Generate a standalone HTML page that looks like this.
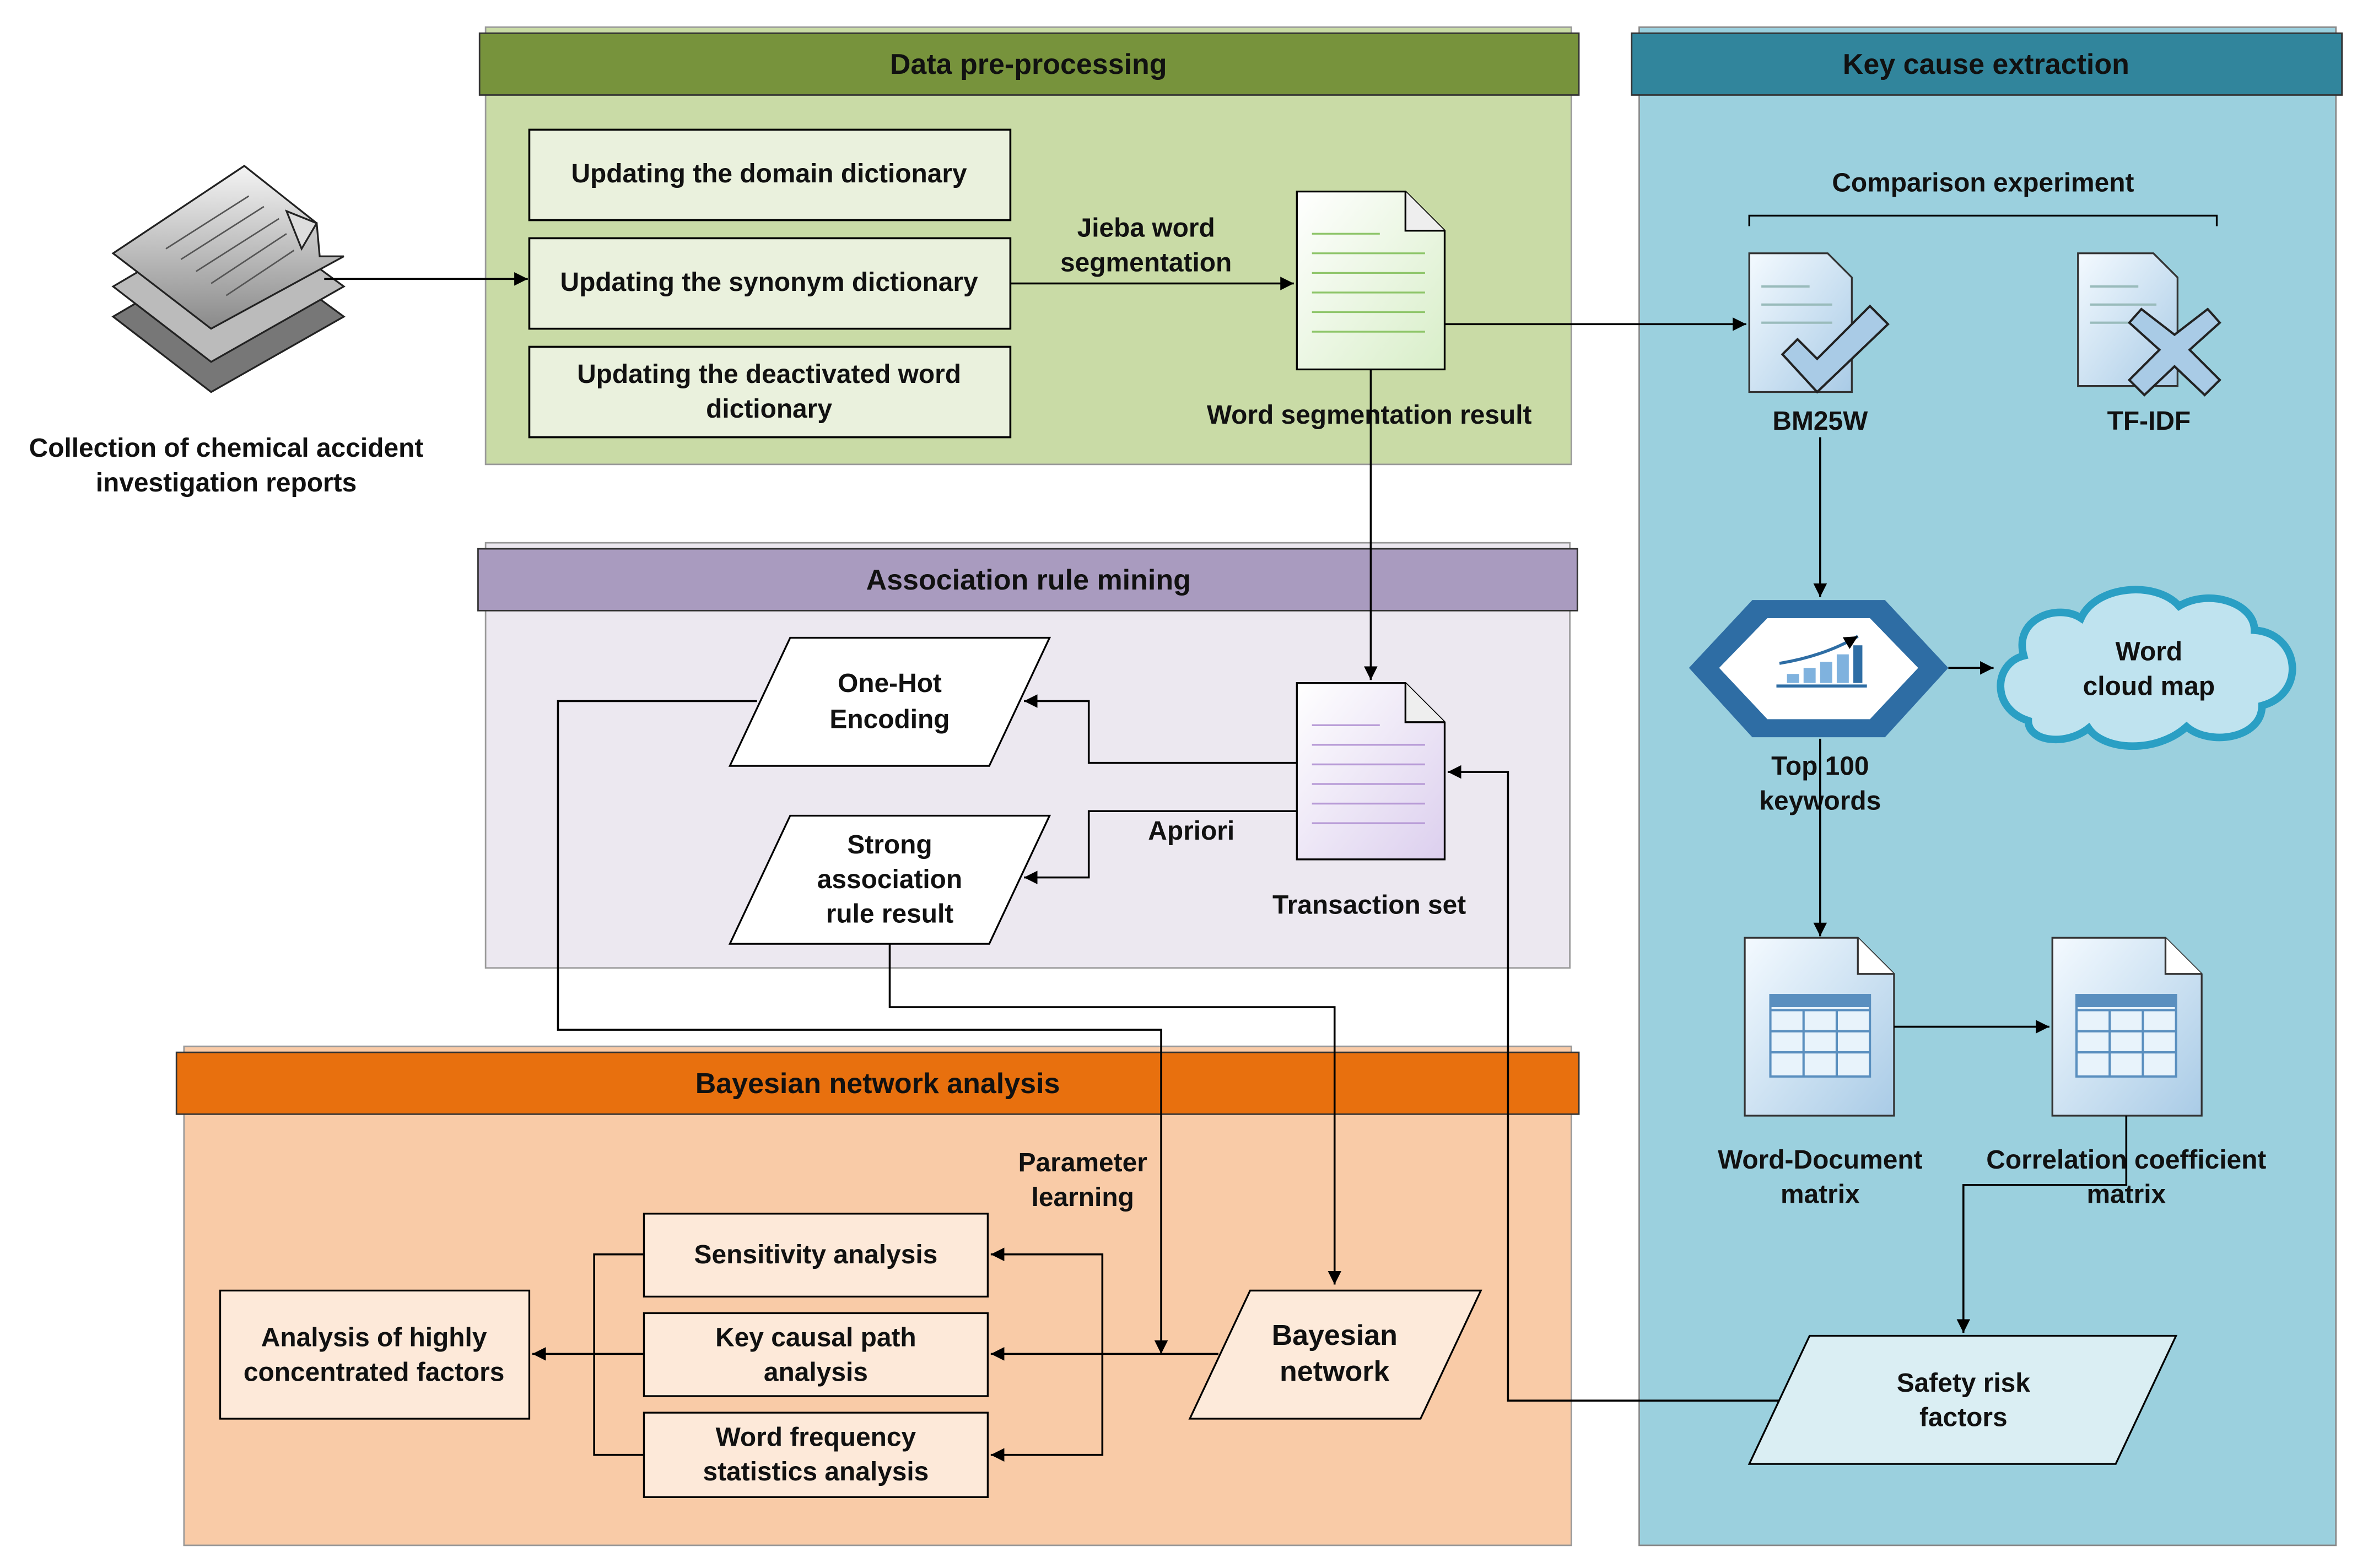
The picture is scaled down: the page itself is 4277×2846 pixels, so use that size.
<!DOCTYPE html>
<html><head><meta charset="utf-8"><style>
html,body{margin:0;padding:0;background:#fff}
svg{display:block}
text{font-family:"Liberation Sans",Arial,sans-serif;font-size:17.5px;font-weight:bold;fill:#111;text-anchor:middle}
.h{font-size:19px}
</style></head><body>
<svg width="4277" height="2846" viewBox="0 0 1563 1040" xmlns="http://www.w3.org/2000/svg">
<defs>
<marker id="a" viewBox="0 0 10 10" refX="10" refY="5" markerWidth="9" markerHeight="9" markerUnits="userSpaceOnUse" orient="auto"><path d="M0,0L10,5L0,10z" fill="#000"/></marker>
<linearGradient id="dg" x1="0" y1="0" x2="1" y2="1"><stop offset="0" stop-color="#fff"/><stop offset="1" stop-color="#d8eec8"/></linearGradient>
<linearGradient id="pg" x1="0" y1="0" x2="1" y2="1"><stop offset="0" stop-color="#fff"/><stop offset="1" stop-color="#dccfee"/></linearGradient>
<linearGradient id="bg" x1="0" y1="0" x2="1" y2="1"><stop offset="0" stop-color="#f4faff"/><stop offset="1" stop-color="#a9cbe6"/></linearGradient>
<linearGradient id="gg" x1="0" y1="0" x2="0" y2="1"><stop offset="0" stop-color="#f4f4f4"/><stop offset="1" stop-color="#8a8a8a"/></linearGradient>
</defs>
<!-- panels -->
<rect x="322" y="18" width="720" height="290" fill="#c9dba6" stroke="#999"/>
<rect x="318" y="22" width="729" height="41" fill="#77933c" stroke="#333"/>
<text class="h" x="682" y="49">Data pre-processing</text>
<rect x="1087" y="18" width="462" height="1007" fill="#9bd0de" stroke="#888"/>
<rect x="1082" y="22" width="471" height="41" fill="#31859c" stroke="#333"/>
<text class="h" x="1317" y="49">Key cause extraction</text>
<rect x="322" y="360" width="719" height="282" fill="#ece8f0" stroke="#999"/>
<rect x="317" y="364" width="729" height="41" fill="#a99bbf" stroke="#333"/>
<text class="h" x="682" y="391">Association rule mining</text>
<rect x="122" y="694" width="920" height="331" fill="#f9cba7" stroke="#999"/>
<rect x="117" y="698" width="930" height="41" fill="#e8700e" stroke="#333"/>
<text class="h" x="582" y="725">Bayesian network analysis</text>

<!-- data boxes -->
<g fill="#eaf1dd" stroke="#000" stroke-width="1.3">
<rect x="351" y="86" width="319" height="60"/><rect x="351" y="158" width="319" height="60"/><rect x="351" y="230" width="319" height="60"/></g>
<text x="510" y="121">Updating the domain dictionary</text>
<text x="510" y="193">Updating the synonym dictionary</text>
<text x="510" y="254">Updating the deactivated word</text><text x="510" y="277">dictionary</text>

<!-- collection icon -->
<g stroke="#222" stroke-width="1.2">
<path d="M75,210 L160,160 L228,210 L140,260z" fill="#777"/>
<path d="M75,190 L160,140 L228,190 L140,240z" fill="#bbb"/>
<path d="M75,168 L162,110 L210,148 L212,170 L228,170 L140,218z" fill="url(#gg)"/>
<path d="M190,140 L210,148 L200,165z" fill="#ddd"/>
</g>
<g stroke="#555" stroke-width="1"><line x1="110" y1="165" x2="165" y2="130"/><line x1="120" y1="172" x2="175" y2="137"/><line x1="130" y1="180" x2="185" y2="145"/><line x1="140" y1="188" x2="190" y2="155"/><line x1="150" y1="196" x2="195" y2="166"/></g>
<text x="150" y="303">Collection of chemical accident</text><text x="150" y="326">investigation reports</text>

<!-- docs -->
<g stroke="#000" stroke-width="1.2">
<path d="M860,127 H932 L958,153 V245 H860z" fill="url(#dg)"/><path d="M932,127 V153 H958" fill="#eee"/>
<path d="M860,453 H932 L958,479 V570 H860z" fill="url(#pg)"/><path d="M932,453 V479 H958" fill="#eee"/>
</g>
<g stroke="#8fc66b" stroke-width="1.2"><line x1="870" y1="155" x2="915" y2="155"/><line x1="870" y1="168" x2="945" y2="168"/><line x1="870" y1="181" x2="945" y2="181"/><line x1="870" y1="194" x2="945" y2="194"/><line x1="870" y1="207" x2="945" y2="207"/><line x1="870" y1="220" x2="945" y2="220"/></g>
<g stroke="#b79ad6" stroke-width="1.2"><line x1="870" y1="481" x2="915" y2="481"/><line x1="870" y1="494" x2="945" y2="494"/><line x1="870" y1="507" x2="945" y2="507"/><line x1="870" y1="520" x2="945" y2="520"/><line x1="870" y1="533" x2="945" y2="533"/><line x1="870" y1="546" x2="945" y2="546"/></g>
<text x="760" y="157">Jieba word</text><text x="760" y="180">segmentation</text>
<text x="908" y="281">Word segmentation result</text>
<text x="908" y="606">Transaction set</text>

<!-- key cause -->
<text x="1315" y="127">Comparison experiment</text>
<path d="M1160,150 V143 H1470 V150" fill="none" stroke="#000" stroke-width="1.2"/>
<g stroke="#333" stroke-width="1.2">
<path d="M1160,168 H1212 L1228,184 V260 H1160z" fill="url(#bg)"/>
<path d="M1378,168 H1428 L1444,184 V256 H1378z" fill="url(#bg)"/>
</g>
<g stroke="#9bb" stroke-width="1.5"><line x1="1168" y1="190" x2="1200" y2="190"/><line x1="1168" y1="202" x2="1215" y2="202"/><line x1="1168" y1="214" x2="1215" y2="214"/><line x1="1386" y1="190" x2="1418" y2="190"/><line x1="1386" y1="202" x2="1430" y2="202"/><line x1="1386" y1="214" x2="1430" y2="214"/></g>
<path d="M1182,235 L1192,225 L1205,238 L1240,203 L1252,215 L1205,260z" fill="#a9cbe6" stroke="#222" stroke-width="1.5"/>
<path d="M1420,205 L1442,222 L1464,205 L1472,214 L1452,232 L1472,252 L1462,262 L1442,243 L1422,262 L1412,252 L1432,232 L1412,214z" fill="#a9cbe6" stroke="#222" stroke-width="1.5"/>
<text x="1207" y="285">BM25W</text><text x="1425" y="285">TF-IDF</text>
<path d="M1120,443 L1162,398 H1250 L1292,443 L1250,489 H1162z" fill="#2e6da4"/>
<path d="M1140,443 L1172,410 H1240 L1272,443 L1240,477 H1172z" fill="#fff"/>
<g fill="#7fb2de"><rect x="1185" y="447" width="8" height="6"/><rect x="1196" y="443" width="8" height="10"/><rect x="1207" y="439" width="8" height="14"/><rect x="1218" y="434" width="8" height="19"/><rect x="1229" y="428" width="6" height="25" fill="#2e6da4"/></g>
<line x1="1178" y1="455" x2="1238" y2="455" stroke="#2e6da4" stroke-width="2"/>
<path d="M1180,440 Q1210,435 1232,422" stroke="#2e6da4" stroke-width="2" fill="none" marker-end="url(#a)"/>
<path d="M1345,478 C1320,470 1322,440 1342,435 C1335,410 1365,400 1380,410 C1390,388 1430,385 1445,402 C1465,390 1495,400 1495,418 C1525,420 1530,460 1500,468 C1500,490 1465,495 1450,482 C1430,500 1395,498 1385,483 C1370,495 1345,492 1345,478z" fill="#bfe3ef" stroke="#2a9fc4" stroke-width="5"/>
<text x="1425" y="438">Word</text><text x="1425" y="461">cloud map</text>
<text x="1207" y="514">Top 100</text><text x="1207" y="537">keywords</text>
<g stroke="#333" stroke-width="1.2">
<path d="M1157,622 H1232 L1256,646 V740 H1157z" fill="url(#bg)"/><path d="M1232,622 V646 H1256" fill="#fff"/>
<path d="M1361,622 H1436 L1460,646 V740 H1361z" fill="url(#bg)"/><path d="M1436,622 V646 H1460" fill="#fff"/>
</g>
<g fill="#e8f3fb" stroke="#5a8fbf" stroke-width="1.5">
<rect x="1174" y="660" width="66" height="54"/><rect x="1377" y="660" width="66" height="54"/></g>
<g stroke="#5a8fbf" stroke-width="1.5"><path d="M1174,670H1240M1174,684H1240M1174,698H1240M1196,670V714M1218,670V714M1377,670H1443M1377,684H1443M1377,698H1443M1399,670V714M1421,670V714"/></g>
<rect x="1174" y="660" width="66" height="8" fill="#5a8fbf"/><rect x="1377" y="660" width="66" height="8" fill="#5a8fbf"/>
<text x="1207" y="775">Word-Document</text><text x="1207" y="798">matrix</text>
<text x="1410" y="775">Correlation coefficient</text><text x="1410" y="798">matrix</text>
<path d="M1160,971 L1200,886 H1443 L1403,971z" fill="#daeef3" stroke="#000" stroke-width="1.2"/>
<text x="1302" y="923">Safety risk</text><text x="1302" y="946">factors</text>

<!-- association shapes -->
<g fill="#fff" stroke="#000" stroke-width="1.2">
<path d="M484,508 L524,423 H696 L656,508z"/><path d="M484,626 L524,541 H696 L656,626z"/></g>
<text x="590" y="459">One-Hot</text><text x="590" y="483">Encoding</text>
<text x="590" y="566">Strong</text><text x="590" y="589">association</text><text x="590" y="612">rule result</text>
<text x="790" y="557">Apriori</text>
<text x="718" y="777">Parameter</text><text x="718" y="800">learning</text>

<!-- bayesian -->
<path d="M789,941 L829,856 H982 L942,941z" fill="#fdeada" stroke="#000" stroke-width="1.2"/>
<text x="885" y="892" style="font-size:19px">Bayesian</text><text x="885" y="916" style="font-size:19px">network</text>
<g fill="#fde9d9" stroke="#000" stroke-width="1.2">
<rect x="427" y="805" width="228" height="55"/><rect x="427" y="871" width="228" height="55"/><rect x="427" y="937" width="228" height="56"/><rect x="146" y="856" width="205" height="85"/></g>
<text x="541" y="838">Sensitivity analysis</text>
<text x="541" y="893">Key causal path</text><text x="541" y="916">analysis</text>
<text x="541" y="959">Word frequency</text><text x="541" y="982">statistics analysis</text>
<text x="248" y="893">Analysis of highly</text><text x="248" y="916">concentrated factors</text>

<!-- connectors -->
<g fill="none" stroke="#000" stroke-width="1.3">
<path d="M215,185 H350" marker-end="url(#a)"/>
<path d="M670,188 H858" marker-end="url(#a)"/>
<path d="M958,215 H1158" marker-end="url(#a)"/>
<path d="M1207,290 V396" marker-end="url(#a)"/>
<path d="M1292,443 H1322" marker-end="url(#a)"/>
<path d="M1207,490 V621" marker-end="url(#a)"/>
<path d="M1256,681 H1359" marker-end="url(#a)"/>
<path d="M1410,740 V786 H1302 V884" marker-end="url(#a)"/>
<path d="M1180,929 H1000 V512 H960" marker-end="url(#a)"/>
<path d="M909,245 V451" marker-end="url(#a)"/>
<path d="M860,506 H722 V465 H679" marker-end="url(#a)"/>
<path d="M860,538 H722 V582 H679" marker-end="url(#a)"/>
<path d="M502,465 H370 V683 H770 V898" marker-end="url(#a)"/>
<path d="M590,626 V668 H885 V852" marker-end="url(#a)"/>
<path d="M808,898 H657" marker-end="url(#a)"/>
<path d="M731,898 V832 H657" marker-end="url(#a)"/>
<path d="M731,898 V965 H657" marker-end="url(#a)"/>
<path d="M427,832 H394 V965 H427"/>
<path d="M427,898 H353" marker-end="url(#a)"/>
</g>
</svg>
</body></html>
